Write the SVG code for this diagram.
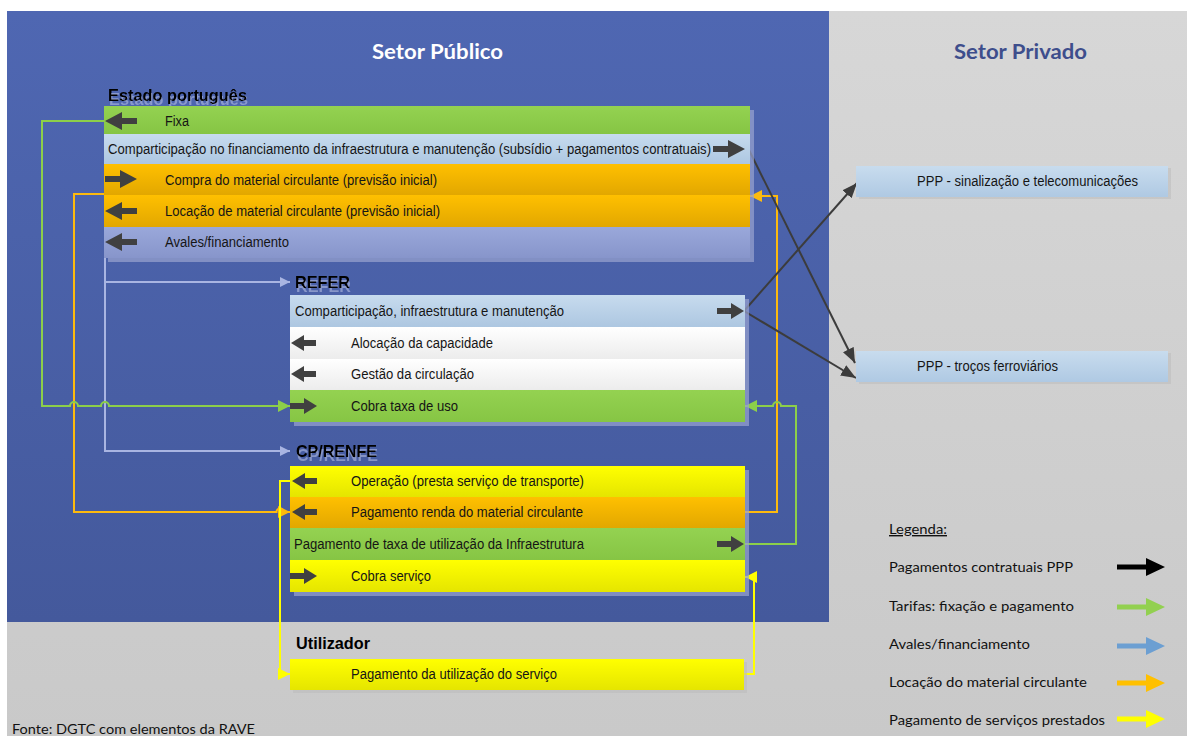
<svg xmlns="http://www.w3.org/2000/svg" width="1187" height="736" viewBox="0 0 1187 736">
<defs>
<linearGradient id="gBlue" x1="0" y1="0" x2="0" y2="1"><stop offset="0" stop-color="#4F67B2"/><stop offset="1" stop-color="#44599C"/></linearGradient>
<linearGradient id="gGray" x1="0" y1="0" x2="0" y2="1"><stop offset="0" stop-color="#D7D7D7"/><stop offset="1" stop-color="#C9C9C9"/></linearGradient>
<linearGradient id="gOr" x1="0" y1="0" x2="0" y2="1"><stop offset="0" stop-color="#FFC000"/><stop offset="1" stop-color="#E2A700"/></linearGradient>
<linearGradient id="gYe" x1="0" y1="0" x2="0" y2="1"><stop offset="0" stop-color="#FFFF00"/><stop offset="1" stop-color="#E5E500"/></linearGradient>
<linearGradient id="gGr" x1="0" y1="0" x2="0" y2="1"><stop offset="0" stop-color="#94D251"/><stop offset="1" stop-color="#86C544"/></linearGradient>
<linearGradient id="gLb" x1="0" y1="0" x2="0" y2="1"><stop offset="0" stop-color="#C7DBEE"/><stop offset="1" stop-color="#ADC7E1"/></linearGradient>
<linearGradient id="gWh" x1="0" y1="0" x2="0" y2="1"><stop offset="0" stop-color="#FFFFFF"/><stop offset="1" stop-color="#ECECEC"/></linearGradient>
<linearGradient id="gLav" x1="0" y1="0" x2="0" y2="1"><stop offset="0" stop-color="#9AA8DA"/><stop offset="1" stop-color="#8795CB"/></linearGradient>
<linearGradient id="gPPP" x1="0" y1="0" x2="0" y2="1"><stop offset="0" stop-color="#C8DCEE"/><stop offset="1" stop-color="#AFC9E3"/></linearGradient>
<filter id="hs" x="-5%" y="-20%" width="110%" height="160%"><feDropShadow dx="1" dy="4" stdDeviation="0.5" flood-color="#BCC4E4" flood-opacity="0.55"/></filter>
<marker id="mG" markerUnits="userSpaceOnUse" markerWidth="12" markerHeight="12" refX="12" refY="6" orient="auto"><path d="M0,0 L12,6 L0,12 Z" fill="#8CCF4A"/></marker>
<marker id="mO" markerUnits="userSpaceOnUse" markerWidth="12" markerHeight="12" refX="12" refY="6" orient="auto"><path d="M0,0 L12,6 L0,12 Z" fill="#FDBA0E"/></marker>
<marker id="mY" markerUnits="userSpaceOnUse" markerWidth="12" markerHeight="12" refX="12" refY="6" orient="auto"><path d="M0,0 L12,6 L0,12 Z" fill="#FFFF00"/></marker>
<marker id="mL" markerUnits="userSpaceOnUse" markerWidth="10" markerHeight="10" refX="10" refY="5" orient="auto"><path d="M0,0 L10,5 L0,10 Z" fill="#A9B5E2"/></marker>
<marker id="mK" markerUnits="userSpaceOnUse" markerWidth="15" markerHeight="12" refX="15" refY="6" orient="auto"><path d="M0,0 L15,6 L0,12 Z" fill="#3C3C3C"/></marker>
<path id="aL" d="M0,0 L17,-9 L17,-3 L32,-3 L32,3 L17,3 L17,9 Z" fill="#404040"/>
<path id="aR" d="M0,0 L-17,-9 L-17,-3 L-32,-3 L-32,3 L-17,3 L-17,9 Z" fill="#404040"/>
<path id="sL" d="M0,0 L13,-8 L13,-3 L25,-3 L25,3 L13,3 L13,8 Z" fill="#404040"/>
<path id="sR" d="M0,0 L-13,-8 L-13,-3 L-27,-3 L-27,3 L-13,3 L-13,8 Z" fill="#404040"/>
</defs>
<style>
.t{font-family:"Liberation Sans",Arial,sans-serif;font-size:14px;fill:#151515}
.h{font-family:"Liberation Sans",Arial,sans-serif;font-weight:bold;font-size:17px;fill:#000}
.sec{font-family:Lato,"Liberation Sans",sans-serif;font-weight:bold;font-size:20px}
.lg{font-family:Lato,"Liberation Sans",sans-serif;font-size:14px;fill:#111}
.sh{fill:#9AA4D0;opacity:0.7}
.c{fill:none;stroke-width:2}
</style>

<!-- backgrounds -->
<rect x="0" y="0" width="1187" height="736" fill="#FFFFFF"/>
<rect x="7" y="11" width="1180" height="725" fill="url(#gGray)"/>
<rect x="7" y="11" width="822" height="611" fill="url(#gBlue)"/>

<g id="headers">
<text class="sec" x="372" y="59" fill="#FFFFFF" textLength="131" lengthAdjust="spacingAndGlyphs">Setor Público</text>
<text class="sec" x="954" y="59" fill="#3E4E8C" textLength="133" lengthAdjust="spacingAndGlyphs">Setor Privado</text>
</g>

<!-- connectors -->
<g id="connectors">
<path class="c" stroke="#A9B5E2" d="M105,258 V451 H290" marker-end="url(#mL)"/>
<path class="c" stroke="#A9B5E2" d="M105,282 H290" marker-end="url(#mL)"/>
<path class="c" stroke="#FDBA0E" d="M104,194 H74 V512 H276.5 a3.5,3.5 0 0 1 7,0 H290" marker-end="url(#mO)"/>
<path class="c" stroke="#FDBA0E" d="M744,512 H777 V196 H750" marker-end="url(#mO)"/>
<path class="c" stroke="#8CCF4A" d="M104,121 H42 V406 H70 a4,4 0 0 1 8,0 H101 a4,4 0 0 1 8,0 H290" marker-end="url(#mG)"/>
<path class="c" stroke="#8CCF4A" d="M744,544 H796 V406 H781 a4,4 0 0 0 -8,0 H745" marker-end="url(#mG)"/>
<path class="c" stroke="#FFFF00" d="M290,481 H280 V674 H290" marker-end="url(#mY)"/>
<path class="c" stroke="#FFFF00" d="M744,674 H754 V577 H745" marker-end="url(#mY)"/>
<path class="c" stroke="#3C3C3C" d="M749,150 L855,363" marker-end="url(#mK)"/>
<path class="c" stroke="#3C3C3C" d="M744,311 L856,378" marker-end="url(#mK)"/>
<path class="c" stroke="#3C3C3C" d="M744,311 L857,183" marker-end="url(#mK)"/>
</g>

<g id="estado">
<text class="h" x="108" y="101" textLength="139" lengthAdjust="spacingAndGlyphs" filter="url(#hs)">Estado português</text>
<rect class="sh" x="108" y="110" width="646" height="152"/>
<rect x="104" y="106" width="646" height="28" fill="url(#gGr)"/>
<rect x="104" y="134" width="646" height="30" fill="url(#gLb)"/>
<rect x="104" y="164" width="646" height="31" fill="url(#gOr)"/>
<rect x="104" y="195" width="646" height="32" fill="url(#gOr)"/>
<rect x="104" y="227" width="646" height="31" fill="url(#gLav)"/>
<use href="#aL" x="105" y="121"/>
<use href="#aR" x="745" y="149"/>
<use href="#aR" x="137" y="179"/>
<use href="#aL" x="105" y="211"/>
<use href="#aL" x="105" y="242"/>
<text class="t" x="165" y="126" textLength="24" lengthAdjust="spacingAndGlyphs">Fixa</text>
<text class="t" x="108" y="154" textLength="603" lengthAdjust="spacingAndGlyphs">Comparticipação no financiamento da infraestrutura e manutenção (subsídio + pagamentos contratuais)</text>
<text class="t" x="165" y="185" textLength="272" lengthAdjust="spacingAndGlyphs">Compra do material circulante (previsão inicial)</text>
<text class="t" x="165" y="216" textLength="275" lengthAdjust="spacingAndGlyphs">Locação de material circulante (previsão inicial)</text>
<text class="t" x="165" y="247" textLength="124" lengthAdjust="spacingAndGlyphs">Avales/financiamento</text>
</g>

<g id="refer">
<text class="h" x="295" y="288" textLength="55" lengthAdjust="spacingAndGlyphs" filter="url(#hs)">REFER</text>
<rect class="sh" x="294" y="299" width="455" height="127"/>
<rect x="290" y="295" width="455" height="32" fill="url(#gLb)"/>
<rect x="290" y="327" width="455" height="32" fill="url(#gWh)"/>
<rect x="290" y="359" width="455" height="31" fill="url(#gWh)"/>
<rect x="290" y="390" width="455" height="32" fill="url(#gGr)"/>
<use href="#sR" x="744" y="311"/>
<use href="#sL" x="291" y="343"/>
<use href="#sL" x="291" y="374"/>
<use href="#sR" x="317" y="406"/>
<text class="t" x="295" y="316" textLength="269" lengthAdjust="spacingAndGlyphs">Comparticipação, infraestrutura e manutenção</text>
<text class="t" x="351" y="348" textLength="142" lengthAdjust="spacingAndGlyphs">Alocação da capacidade</text>
<text class="t" x="351" y="379" textLength="123" lengthAdjust="spacingAndGlyphs">Gestão da circulação</text>
<text class="t" x="351" y="411" textLength="107" lengthAdjust="spacingAndGlyphs">Cobra taxa de uso</text>
</g>

<g id="cprenfe">
<text class="h" x="296" y="457" textLength="81" lengthAdjust="spacingAndGlyphs" filter="url(#hs)">CP/RENFE</text>
<rect class="sh" x="294" y="470" width="455" height="126"/>
<rect x="290" y="466" width="455" height="31" fill="url(#gYe)"/>
<rect x="290" y="497" width="455" height="31" fill="url(#gOr)"/>
<rect x="290" y="528" width="455" height="32" fill="url(#gGr)"/>
<rect x="290" y="560" width="455" height="32" fill="url(#gYe)"/>
<use href="#sL" x="292" y="481"/>
<use href="#sL" x="292" y="512"/>
<use href="#sR" x="744" y="544"/>
<use href="#sR" x="317" y="576"/>
<text class="t" x="351" y="486" textLength="233" lengthAdjust="spacingAndGlyphs">Operação (presta serviço de transporte)</text>
<text class="t" x="351" y="517" textLength="232" lengthAdjust="spacingAndGlyphs">Pagamento renda do material circulante</text>
<text class="t" x="294" y="549" textLength="290" lengthAdjust="spacingAndGlyphs">Pagamento de taxa de utilização da Infraestrutura</text>
<text class="t" x="351" y="581" textLength="80" lengthAdjust="spacingAndGlyphs">Cobra serviço</text>
</g>

<g id="utilizador">
<text class="h" x="296" y="649" textLength="74" lengthAdjust="spacingAndGlyphs">Utilizador</text>
<rect x="293" y="662" width="454" height="31" fill="#BDBDBD" opacity="0.6"/>
<rect x="290" y="659" width="454" height="31" fill="url(#gYe)"/>
<text class="t" x="351" y="679" textLength="206" lengthAdjust="spacingAndGlyphs">Pagamento da utilização do serviço</text>
</g>

<g id="ppp-sinalizacao">
<rect x="859" y="168" width="312" height="31" fill="#BEBEBE" opacity="0.6"/>
<rect x="856" y="166" width="312" height="31" fill="url(#gPPP)"/>
<text class="t" x="917" y="186" textLength="221" lengthAdjust="spacingAndGlyphs">PPP - sinalização e telecomunicações</text>
</g>

<g id="ppp-trocos">
<rect x="859" y="353" width="312" height="31" fill="#BEBEBE" opacity="0.6"/>
<rect x="856" y="351" width="312" height="31" fill="url(#gPPP)"/>
<text class="t" x="917" y="371" textLength="141" lengthAdjust="spacingAndGlyphs">PPP - troços ferroviários</text>
</g>

<g id="legenda">
<text class="lg" x="889" y="534" text-decoration="underline" textLength="58" lengthAdjust="spacingAndGlyphs">Legenda:</text>
<text class="lg" x="889" y="572" textLength="184" lengthAdjust="spacingAndGlyphs">Pagamentos contratuais PPP</text>
<text class="lg" x="889" y="611" textLength="185" lengthAdjust="spacingAndGlyphs">Tarifas: fixação e pagamento</text>
<text class="lg" x="889" y="649" textLength="141" lengthAdjust="spacingAndGlyphs">Avales/financiamento</text>
<text class="lg" x="889" y="687" textLength="198" lengthAdjust="spacingAndGlyphs">Locação do material circulante</text>
<text class="lg" x="889" y="725" textLength="216" lengthAdjust="spacingAndGlyphs">Pagamento de serviços prestados</text>
<path d="M1117,564.5 H1146 V558 L1165,567 L1146,576 V569.5 H1117 Z" fill="#000000"/>
<path d="M1117,604.5 H1146 V598 L1165,607 L1146,616 V609.5 H1117 Z" fill="#92D050"/>
<path d="M1117,643.5 H1146 V637 L1165,646 L1146,655 V648.5 H1117 Z" fill="#6C9FD2"/>
<path d="M1117,680.5 H1146 V674 L1165,683 L1146,692 V685.5 H1117 Z" fill="#FFC000"/>
<path d="M1117,716.5 H1146 V710 L1165,719 L1146,728 V721.5 H1117 Z" fill="#FFFF00"/>
</g>

<text class="lg" x="12" y="734" textLength="243" lengthAdjust="spacingAndGlyphs">Fonte: DGTC com elementos da RAVE</text>
</svg>
